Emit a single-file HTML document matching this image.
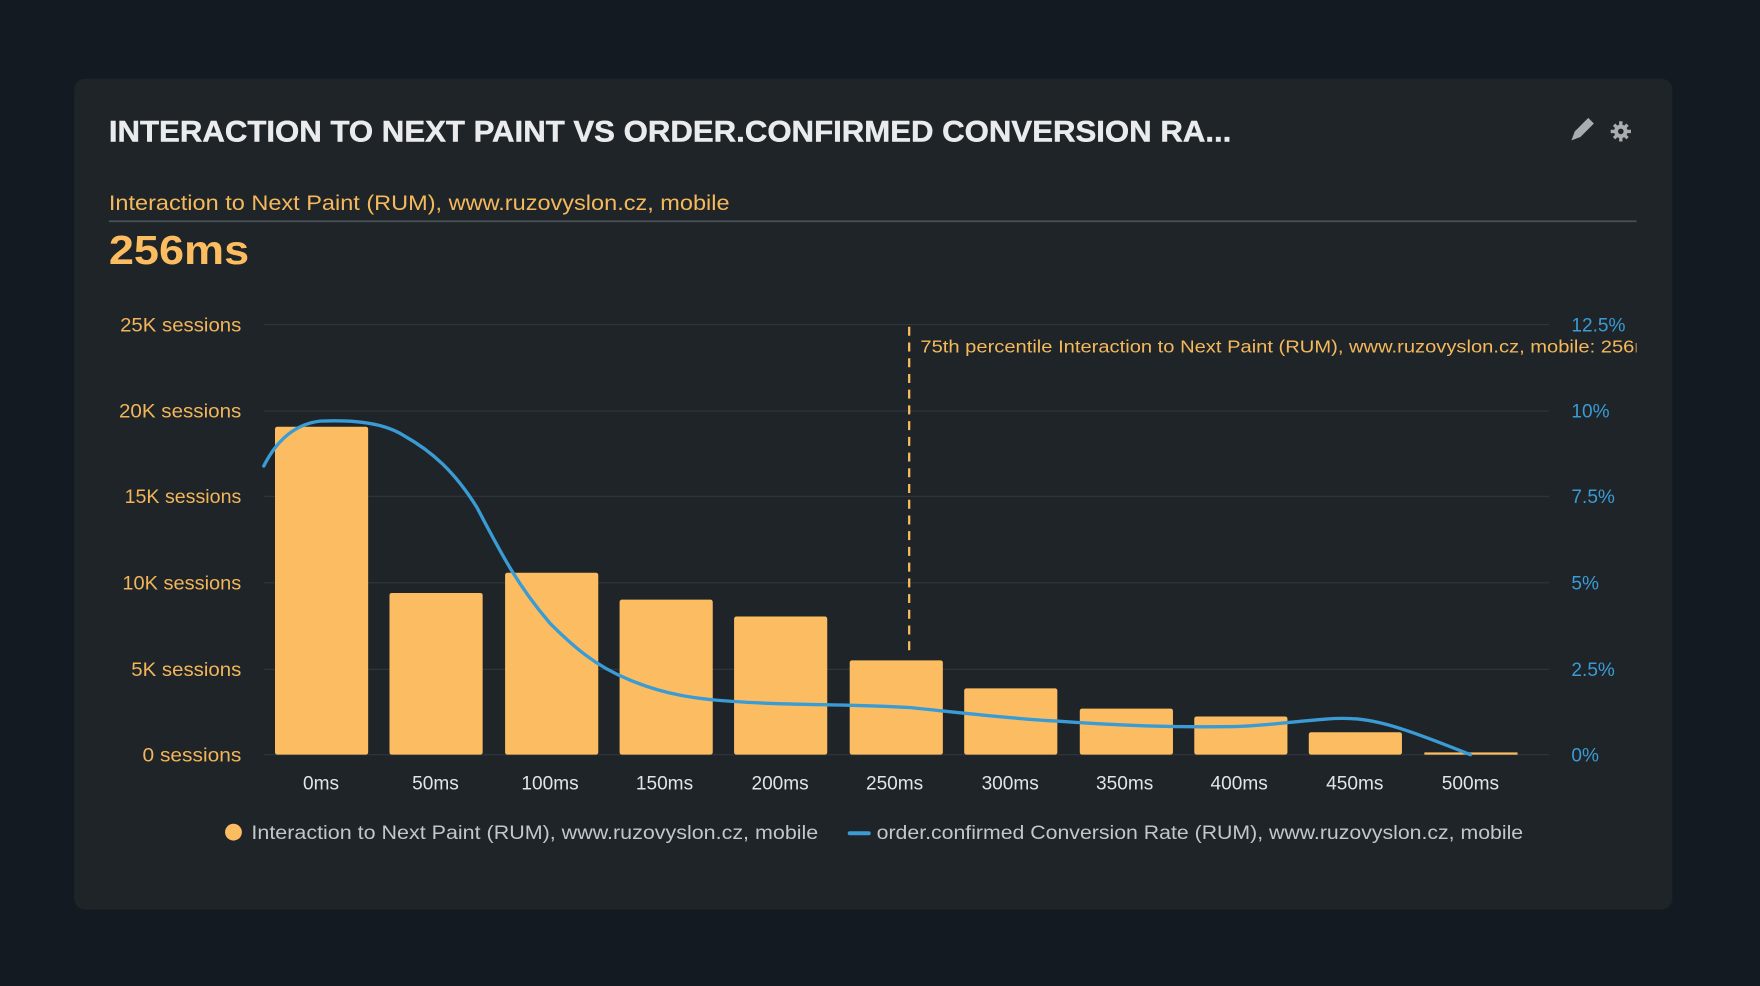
<!DOCTYPE html>
<html><head><meta charset="utf-8"><style>
html,body{margin:0;padding:0;background:#131a21;width:1760px;height:986px;overflow:hidden}
svg{display:block}
text{font-family:"Liberation Sans",sans-serif}
</style></head><body>
<svg width="1760" height="986" viewBox="0 0 1568 878" preserveAspectRatio="none" xmlns="http://www.w3.org/2000/svg">
<defs><clipPath id="c"><rect x="815" y="290" width="643" height="40"/></clipPath></defs>
<rect x="0" y="0" width="1568" height="878" fill="#131a21"/>
<rect x="66" y="70" width="1424" height="740" rx="10" fill="#1e2428"/>
<text x="97" y="126" font-size="26" font-weight="bold" fill="#e9ebed" stroke="#e9ebed" stroke-width="0.4" textLength="1000" lengthAdjust="spacingAndGlyphs">INTERACTION TO NEXT PAINT VS ORDER.CONFIRMED CONVERSION RA...</text>
<g fill="#a9adb0">
<path d="M1400 125 l3 -8 l12 -12 l5 5 l-12 12 z"/>
<circle cx="1444" cy="117" r="6"/>
<g stroke="#a9adb0" stroke-width="3"><line x1="1444" y1="108" x2="1444" y2="126"/><line x1="1435" y1="117" x2="1453" y2="117"/><line x1="1438" y1="111" x2="1450" y2="123"/><line x1="1450" y1="111" x2="1438" y2="123"/></g>
<circle cx="1444" cy="117" r="2.5" fill="#1e2428"/>
</g>
<text x="97" y="187" font-size="19" fill="#f5b95c" textLength="553" lengthAdjust="spacingAndGlyphs">Interaction to Next Paint (RUM), www.ruzovyslon.cz, mobile</text>
<line x1="97" y1="197" x2="1458" y2="197" stroke="#4a5056" stroke-width="1.5"/>
<text x="97" y="235" font-size="36" font-weight="bold" fill="#fbbd5f" textLength="125" lengthAdjust="spacingAndGlyphs">256ms</text>
<g stroke="#30373c" stroke-width="1">
<line x1="235" y1="289" x2="1380" y2="289"/><line x1="235" y1="366" x2="1380" y2="366"/><line x1="235" y1="442" x2="1380" y2="442"/><line x1="235" y1="519" x2="1380" y2="519"/><line x1="235" y1="596" x2="1380" y2="596"/><line x1="235" y1="672" x2="1380" y2="672"/>
</g>
<g font-size="17" fill="#f2b55a" text-anchor="end">
<text x="215" y="295" textLength="108" lengthAdjust="spacingAndGlyphs">25K sessions</text><text x="215" y="372" textLength="109" lengthAdjust="spacingAndGlyphs">20K sessions</text><text x="215" y="448" textLength="104" lengthAdjust="spacingAndGlyphs">15K sessions</text><text x="215" y="525" textLength="106" lengthAdjust="spacingAndGlyphs">10K sessions</text><text x="215" y="602" textLength="98" lengthAdjust="spacingAndGlyphs">5K sessions</text><text x="215" y="678" textLength="88" lengthAdjust="spacingAndGlyphs">0 sessions</text>
</g>
<g font-size="17" fill="#3a9bd5">
<text x="1400" y="295">12.5%</text><text x="1400" y="372">10%</text><text x="1400" y="448">7.5%</text><text x="1400" y="525">5%</text><text x="1400" y="602">2.5%</text><text x="1400" y="678">0%</text>
</g>
<g fill="#fcbd62">
<rect x="245" y="380" width="83" height="292" rx="2"/>
<rect x="347" y="528" width="83" height="144" rx="2"/>
<rect x="450" y="510" width="83" height="162" rx="2"/>
<rect x="552" y="534" width="83" height="138" rx="2"/>
<rect x="654" y="549" width="83" height="123" rx="2"/>
<rect x="757" y="588" width="83" height="84" rx="2"/>
<rect x="859" y="613" width="83" height="59" rx="2"/>
<rect x="962" y="631" width="83" height="41" rx="2"/>
<rect x="1064" y="638" width="83" height="34" rx="2"/>
<rect x="1166" y="652" width="83" height="20" rx="2"/>
<rect x="1269" y="670" width="83" height="2"/>
</g>
<g font-size="17" fill="#e2e4e6" text-anchor="middle">
<text x="286" y="703">0ms</text><text x="388" y="703">50ms</text><text x="490" y="703">100ms</text><text x="592" y="703">150ms</text><text x="695" y="703">200ms</text><text x="797" y="703">250ms</text><text x="900" y="703">300ms</text><text x="1002" y="703">350ms</text><text x="1104" y="703">400ms</text><text x="1207" y="703">450ms</text><text x="1310" y="703">500ms</text>
</g>
<line x1="810" y1="291" x2="810" y2="585" stroke="#fbbd5f" stroke-width="2" stroke-dasharray="8,6"/>
<text x="820" y="314" font-size="16" fill="#f5b95c" clip-path="url(#c)" textLength="660" lengthAdjust="spacingAndGlyphs">75th percentile Interaction to Next Paint (RUM), www.ruzovyslon.cz, mobile: 256ms</text>
<path d="M235 415 C245 395 260 378 285 375 C310 374 340 375 360 388 C385 402 405 420 425 452 C445 490 460 520 490 555 C510 575 530 593 560 605 C590 618 620 623 660 625 C700 628 760 627 810 630 C850 634 900 640 940 642 C980 645 1040 648 1100 647 C1140 646 1180 638 1205 640 C1230 641 1260 652 1310 672" fill="none" stroke="#3a9bd5" stroke-width="3" stroke-linecap="round"/>
<circle cx="208" cy="741" r="7.5" fill="#fcbd62"/>
<text x="224" y="747" font-size="17" fill="#c4c6c8" textLength="505" lengthAdjust="spacingAndGlyphs">Interaction to Next Paint (RUM), www.ruzovyslon.cz, mobile</text>
<line x1="757" y1="742" x2="774" y2="742" stroke="#3a9bd5" stroke-width="3.5" stroke-linecap="round"/>
<text x="781" y="747" font-size="17" fill="#c4c6c8" textLength="576" lengthAdjust="spacingAndGlyphs">order.confirmed Conversion Rate (RUM), www.ruzovyslon.cz, mobile</text>
</svg>
</body></html>
